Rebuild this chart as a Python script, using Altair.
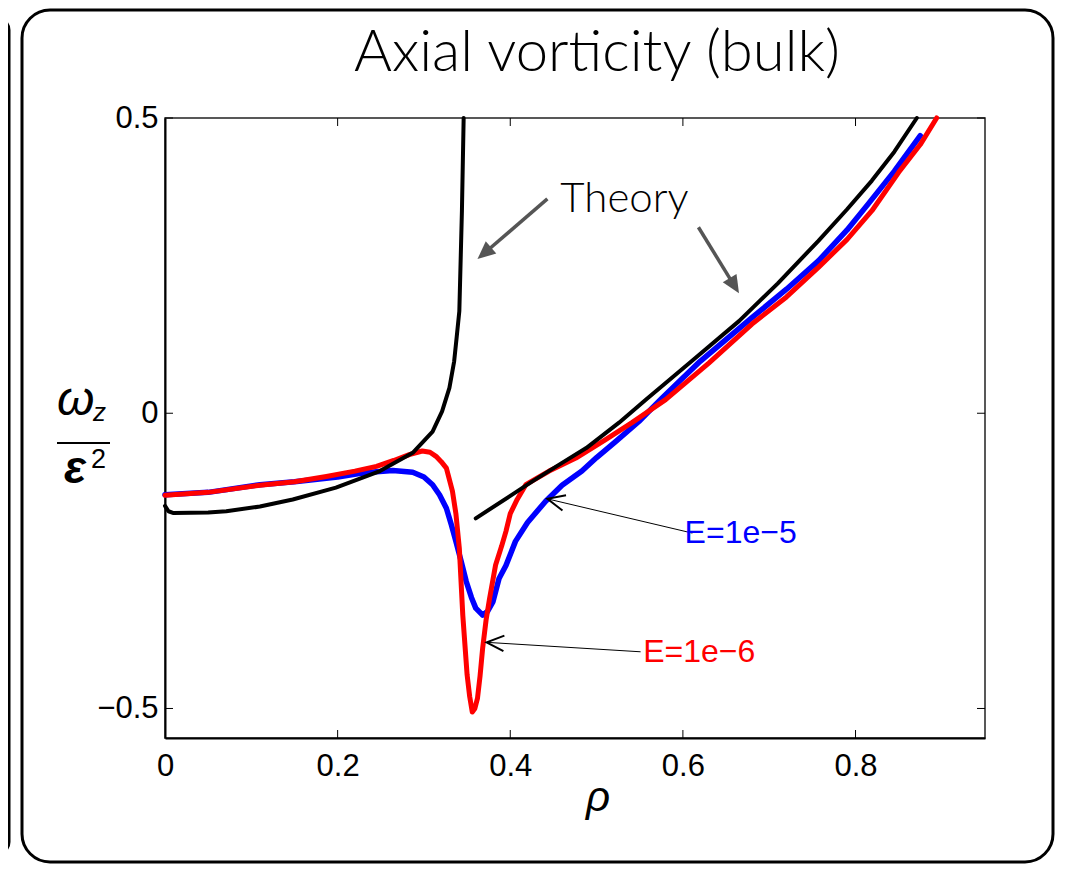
import math
import altair as alt
import pandas as pd

# ---------------- data ----------------
theory_in_rho = [0.0, 0.004, 0.01, 0.05, 0.071, 0.11, 0.148, 0.198, 0.249, 0.287, 0.31, 0.321, 0.3295, 0.335, 0.338, 0.341, 0.344, 0.346]
theory_in_val = [-0.157, -0.166, -0.169, -0.168, -0.166, -0.158, -0.146, -0.126, -0.098, -0.067, -0.031, 0.003, 0.043, 0.088, 0.13, 0.173, 0.343, 0.5]

theory_out_rho = [0.36, 0.40, 0.426, 0.46, 0.488, 0.526, 0.557, 0.61, 0.665, 0.71, 0.757, 0.79, 0.819, 0.845, 0.871]
theory_out_val = [-0.178, -0.140, -0.115, -0.084, -0.059, -0.016, 0.023, 0.088, 0.156, 0.22, 0.292, 0.345, 0.394, 0.443, 0.5]

e5_rho = [0.0, 0.05, 0.11, 0.15, 0.20, 0.225, 0.245, 0.264, 0.287, 0.30, 0.31, 0.318, 0.326, 0.332, 0.337, 0.343, 0.349, 0.355, 0.36, 0.368, 0.374, 0.38, 0.387, 0.395, 0.406, 0.42, 0.441, 0.46, 0.483, 0.50, 0.522, 0.549, 0.576, 0.62, 0.68, 0.72, 0.757, 0.79, 0.815, 0.845, 0.875]
e5_val = [-0.138, -0.134, -0.121, -0.116, -0.108, -0.102, -0.099, -0.097, -0.100, -0.108, -0.121, -0.138, -0.161, -0.19, -0.217, -0.25, -0.285, -0.312, -0.33, -0.342, -0.335, -0.319, -0.28, -0.258, -0.217, -0.185, -0.149, -0.122, -0.098, -0.075, -0.048, -0.014, 0.026, 0.088, 0.162, 0.21, 0.258, 0.31, 0.355, 0.41, 0.47]

e6_rho = [0.0, 0.05, 0.11, 0.15, 0.187, 0.22, 0.245, 0.265, 0.283, 0.298, 0.307, 0.314, 0.32, 0.326, 0.333, 0.337, 0.341, 0.345, 0.35, 0.353, 0.356, 0.359, 0.362, 0.365, 0.368, 0.372, 0.376, 0.383, 0.39, 0.395, 0.40, 0.408, 0.418, 0.445, 0.476, 0.51, 0.541, 0.58, 0.63, 0.68, 0.72, 0.757, 0.79, 0.819, 0.85, 0.875, 0.894]
e6_val = [-0.139, -0.134, -0.122, -0.116, -0.107, -0.098, -0.09, -0.08, -0.07, -0.064, -0.066, -0.073, -0.082, -0.093, -0.132, -0.17, -0.229, -0.342, -0.443, -0.48, -0.506, -0.5, -0.483, -0.445, -0.398, -0.35, -0.314, -0.257, -0.225, -0.2, -0.17, -0.146, -0.121, -0.098, -0.076, -0.045, -0.016, 0.023, 0.085, 0.151, 0.197, 0.247, 0.294, 0.343, 0.408, 0.455, 0.5]

x_ticks = [0, 0.2, 0.4, 0.6, 0.8]
y_ticks = [-0.5, 0, 0.5]

# annotations (data coordinates)
theory_arrow_from = [(0.443, 0.363), (0.618, 0.315)]
theory_arrow_to = [(0.362, 0.261), (0.665, 0.203)]
label_names = ["E=1e\u22125", "E=1e\u22126"]
label_colors = ["#0000ff", "#ff0000"]
label_pos = [(0.602, -0.203), (0.554, -0.405)]
label_arrow_from = [(0.611, -0.203), (0.551, -0.404)]
label_arrow_to = [(0.443, -0.145), (0.3726, -0.388)]
theory_text_pos = (0.458, 0.34)

# ---------------- layout ----------------
W, H = 820, 620
X_DOM = [0, 0.95]
Y_DOM = [-0.55, 0.5]
PX_X = W / (X_DOM[1] - X_DOM[0])
PX_Y = H / (Y_DOM[1] - Y_DOM[0])

xs = alt.Scale(domain=X_DOM, nice=False, zero=False)
ys = alt.Scale(domain=Y_DOM, nice=False, zero=False)

def curve_df(r, v):
    return pd.DataFrame({"rho": r, "val": v, "i": list(range(len(r)))})

def line_layer(r, v, color, width):
    return alt.Chart(curve_df(r, v)).mark_line(
        color=color, strokeWidth=width, strokeJoin="round", strokeCap="round"
    ).encode(
        x=alt.X("rho:Q", scale=xs, title=None,
                axis=alt.Axis(values=x_ticks, format="~g", labelPadding=13, labelFlush=False)),
        y=alt.Y("val:Q", scale=ys, title=None,
                axis=alt.Axis(values=y_ticks, format="~g", labelPadding=7, labelFlush=False)),
        order="i:O",
    )

one = alt.Data(values=[{"a": 1}])

# frames (slide decoration)
frame = alt.Chart(one).mark_rect(fillOpacity=0, stroke="black", strokeWidth=3, cornerRadius=28).encode(
    x=alt.value(-143), x2=alt.value(888), y=alt.value(-108), y2=alt.value(744))
frame_left = alt.Chart(one).mark_rect(fillOpacity=0, stroke="black", strokeWidth=3, cornerRadius=12).encode(
    x=alt.value(-400), x2=alt.value(-156), y=alt.value(-100), y2=alt.value(736))

# inward ticks
xt = pd.DataFrame({"t": x_ticks[1:]})
yt = pd.DataFrame({"t": y_ticks})
tick_bottom = alt.Chart(xt).mark_rule(color="black", strokeWidth=1).encode(
    x=alt.X("t:Q", scale=xs), y=alt.value(H), y2=alt.value(H - 8))
tick_top = alt.Chart(xt).mark_rule(color="black", strokeWidth=1).encode(
    x=alt.X("t:Q", scale=xs), y=alt.value(0), y2=alt.value(8))
tick_left = alt.Chart(yt).mark_rule(color="black", strokeWidth=1).encode(
    y=alt.Y("t:Q", scale=ys), x=alt.value(0), x2=alt.value(8))
tick_right = alt.Chart(yt).mark_rule(color="black", strokeWidth=1).encode(
    y=alt.Y("t:Q", scale=ys), x=alt.value(W), x2=alt.value(W - 8))

# curves
blue = line_layer(e5_rho, e5_val, "#0000ff", 5.5)
red = line_layer(e6_rho, e6_val, "#ff0000", 5)
th_in = line_layer(theory_in_rho, theory_in_val, "black", 4)
th_out = line_layer(theory_out_rho, theory_out_val, "black", 4)

# arrows
def arrow_frames(froms, tos, shorten_px):
    seg, head = [], []
    for (r1, v1), (r2, v2) in zip(froms, tos):
        dx = (r2 - r1) * PX_X
        dy = -(v2 - v1) * PX_Y
        ang = math.degrees(math.atan2(dy, dx)) % 360
        L = math.hypot(dx, dy)
        f = max(0.0, (L - shorten_px) / L)
        seg.append({"r1": r1, "v1": v1, "r2": r1 + (r2 - r1) * f, "v2": v1 + (v2 - v1) * f})
        head.append({"r": r2, "v": v2, "ang": ang})
    return pd.DataFrame(seg), pd.DataFrame(head)

th_seg, th_head = arrow_frames(theory_arrow_from, theory_arrow_to, 12)
lb_seg, lb_head = arrow_frames(label_arrow_from, label_arrow_to, 0)

th_lines = alt.Chart(th_seg).mark_rule(color="#555555", strokeWidth=3.5).encode(
    x=alt.X("r1:Q", scale=xs), y=alt.Y("v1:Q", scale=ys), x2="r2:Q", y2="v2:Q")
th_heads = alt.Chart(th_head).mark_point(
    shape="M 0 0 L -2 -0.9 L -2 0.9 Z", filled=True, fill="#555555", opacity=1, size=320, strokeWidth=0
).encode(x=alt.X("r:Q", scale=xs), y=alt.Y("v:Q", scale=ys), angle=alt.Angle("ang:Q", scale=None))

lb_lines = alt.Chart(lb_seg).mark_rule(color="black", strokeWidth=1).encode(
    x=alt.X("r1:Q", scale=xs), y=alt.Y("v1:Q", scale=ys), x2="r2:Q", y2="v2:Q")
lb_heads = alt.Chart(lb_head).mark_point(
    shape="M -2 -0.9 L 0 0 L -2 0.9", filled=False, stroke="black", strokeWidth=2, opacity=1, size=300
).encode(x=alt.X("r:Q", scale=xs), y=alt.Y("v:Q", scale=ys), angle=alt.Angle("ang:Q", scale=None))

lab_df = pd.DataFrame({"r": [p[0] for p in label_pos], "v": [p[1] for p in label_pos],
                       "name": label_names, "col": label_colors})
labels = alt.Chart(lab_df).mark_text(
    align="left", baseline="middle", font="Liberation Sans", fontSize=32
).encode(x=alt.X("r:Q", scale=xs), y=alt.Y("v:Q", scale=ys), text="name:N",
         color=alt.Color("col:N", scale=None))

theory_text = alt.Chart(pd.DataFrame({"r": [theory_text_pos[0]], "v": [theory_text_pos[1]]})).mark_text(
    text="Theory", align="left", baseline="alphabetic", font="Lato", fontSize=42, fontWeight=300, color="black"
).encode(x=alt.X("r:Q", scale=xs), y=alt.Y("v:Q", scale=ys))

# titles
title = alt.Chart(one).mark_text(text="Axial vorticity (bulk)", align="center", baseline="alphabetic",
                                 font="Lato", fontSize=58, fontWeight=300, color="black").encode(
    x=alt.value(432), y=alt.value(-47))
xlab = alt.Chart(one).mark_text(text="\u03c1", align="center", baseline="alphabetic",
                                font="Liberation Sans", fontSize=42, fontStyle="italic", color="black").encode(
    x=alt.value(433), y=alt.value(693))
om = alt.Chart(one).mark_text(text="\u03c9", align="left", baseline="alphabetic",
                              font="Liberation Sans", fontSize=48, fontStyle="italic", color="black").encode(
    x=alt.value(-108), y=alt.value(297))
zsub = alt.Chart(one).mark_text(text="z", align="left", baseline="alphabetic",
                                font="Liberation Sans", fontSize=26, fontStyle="italic", color="black").encode(
    x=alt.value(-72), y=alt.value(303))
bar = alt.Chart(one).mark_rule(color="black", strokeWidth=2).encode(
    x=alt.value(-108), x2=alt.value(-55), y=alt.value(325))
eps = alt.Chart(one).mark_text(text="\u03b5", align="left", baseline="alphabetic",
                               font="Liberation Sans", fontSize=46, fontStyle="italic", fontWeight="bold",
                               color="black").encode(
    x=alt.value(-101), y=alt.value(365))
two = alt.Chart(one).mark_text(text="2", align="left", baseline="alphabetic",
                               font="Liberation Sans", fontSize=27, color="black").encode(
    x=alt.value(-74), y=alt.value(350))

chart = alt.layer(
    frame, frame_left,
    blue, red, th_in, th_out,
    tick_bottom, tick_top, tick_left, tick_right,
    th_lines, th_heads, lb_lines, lb_heads, labels, theory_text,
    title, xlab, om, zsub, bar, eps, two,
).properties(
    width=W, height=H,
    autosize=alt.AutoSizeParams(type="none"),
    padding={"left": 157, "top": 110, "right": 73, "bottom": 126},
).configure_view(
    stroke="#222222", strokeWidth=1.5
).configure_axis(
    labelFont="Liberation Sans", labelFontSize=31, labelColor="black",
    domainColor="black", domainWidth=2, ticks=False, grid=False,
)

chart.save("out.html", embed_options={"renderer": "svg", "actions": False})
